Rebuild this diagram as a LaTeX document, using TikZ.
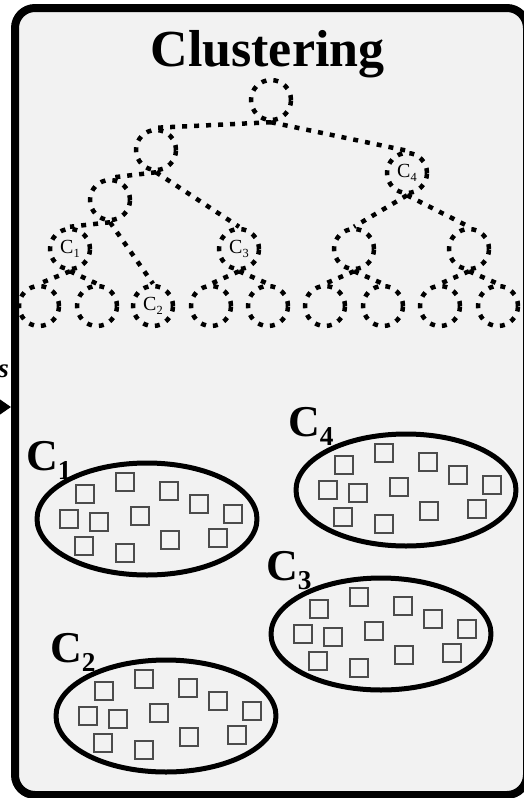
\documentclass[tikz,border=0pt]{standalone}
\usepackage{fontspec}
\setmainfont{Liberation Serif}
\usepackage{tikz}
\usetikzlibrary{arrows.meta,shapes.geometric}
\newcommand{\clsub}[1]{C\raisebox{-0.22em}{\scalebox{0.62}{#1}}}
\tikzset{
  every picture/.append style={line cap=round,line join=round},
  clu frame/.style={line width=8pt,rounded corners=20pt,fill=black!5},
  clu title/.style={font=\fontsize{52}{52}\selectfont\bfseries,inner sep=0pt},
  clu tree/.style={circle,draw,line width=4.5pt,line cap=butt,dash pattern=on 5pt off 7pt,
    minimum size=40pt,inner sep=0pt,font=\fontsize{20}{20}\selectfont},
  clu edge/.style={line width=4.5pt,line cap=butt,dash pattern=on 5pt off 7pt},
  clu blob/.style={line width=5pt},
  clu item/.style={draw=black!70,line width=1.2pt,line cap=butt,line join=miter},
  clu label/.style={font=\fontsize{44}{44}\selectfont\bfseries,inner sep=0pt,anchor=base west},
  clu arrow/.style={line width=2.5pt,-{Triangle[length=15pt,width=20pt]}}
}

\begin{document}
\begin{tikzpicture}[x=1pt, y=-1pt]
  \useasboundingbox (0,0) rectangle (523,798);
  \draw[clu frame] (15,8) rectangle (527,795);

  \node[anchor=base east,inner sep=0pt,font=\fontsize{27}{27}\selectfont\bfseries\itshape]
    (feedtext) at (9,377) {s};
  \coordinate (feed) at (-30,407);
  \coordinate (inlet) at (11,407);
  \draw[clu arrow] (feed) -- (inlet);

  \node[clu title,anchor=base] (title) at (267.5,66) {Clustering};

  % dendrogram
  \node[clu tree] (root) at (271,100) {};
  \node[clu tree] (a) at (156,150) {};
  \node[clu tree] (c4) at (407,173) {\clsub{4}};
  \node[clu tree] (b) at (110,200) {};
  \node[clu tree] (c1) at (70,249) {\clsub{1}};
  \node[clu tree] (c3) at (239,249) {\clsub{3}};
  \node[clu tree] (d) at (354,249) {};
  \node[clu tree] (e) at (469,249) {};
  \node[clu tree] (c2) at (153,306) {\clsub{2}};
  \foreach \name/\x in {l1/39,l2/97,l3/211,l4/268,l5/325,l6/383,l7/440,l8/498}
    \node[clu tree] (\name) at (\x,306) {};

  \foreach \from/\to in {root/a,root/c4,a/b,a/c3,b/c1,b/c2,c1/l1,c1/l2,c3/l3,c3/l4,
                         c4/d,c4/e,d/l5,d/l6,e/l7,e/l8}
    \draw[clu edge] (\from.south) -- (\to.north);

  % clusters
  \foreach \cx/\cy in {147/519,406/490,381/634,166/716} {
    \begin{scope}[shift={(\cx,\cy)}]
      \draw[clu blob] (0,0) ellipse (110pt and 56pt);
      \foreach \dx/\dy in {-62/-25,-22/-37,22/-28,52/-15,86/-5,-78/0,-48/3,-7/-3,
                           23/21,71/19,-63/27,-22/34}
        \draw[clu item] (\dx-9,\dy-9) rectangle ++(18,18);
    \end{scope}
  }
  \node[clu label] (lab1) at (26,470) {\clsub{1}};
  \node[clu label] (lab4) at (288,436) {\clsub{4}};
  \node[clu label] (lab3) at (266,580) {\clsub{3}};
  \node[clu label] (lab2) at (50,662) {\clsub{2}};
\end{tikzpicture}
\end{document}
